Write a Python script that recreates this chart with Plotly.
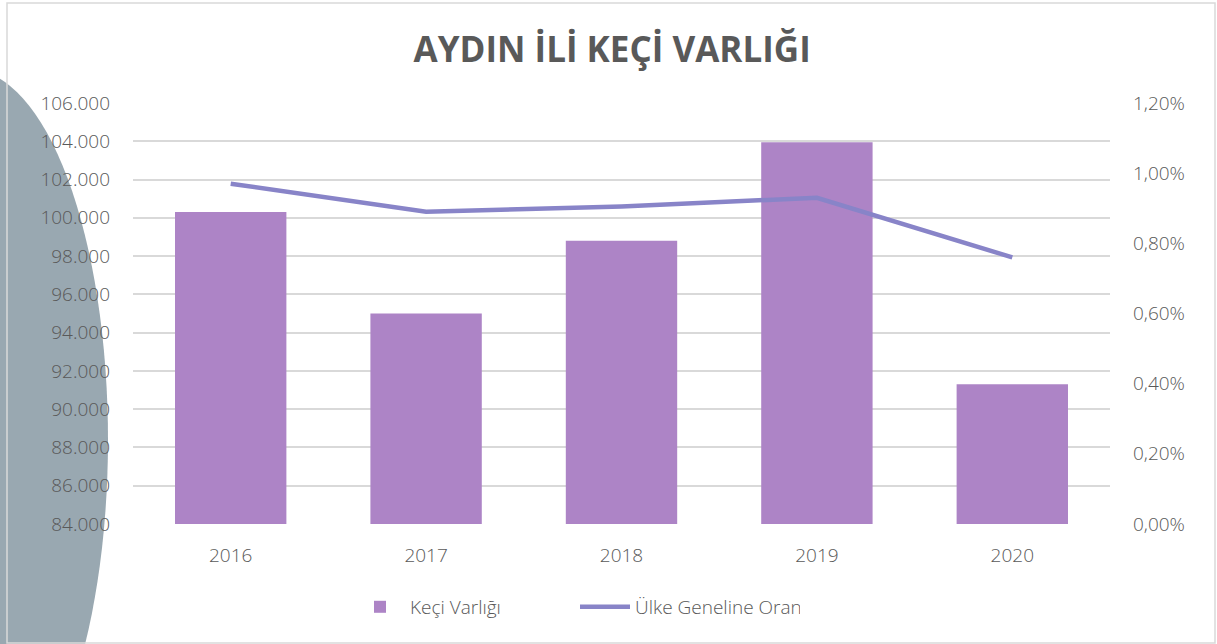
import plotly.graph_objects as go

years = ["2016", "2017", "2018", "2019", "2020"]
keci_varligi = [100300, 95000, 98800, 103950, 91300]
ulke_orani = [0.0097, 0.0089, 0.00905, 0.0093, 0.0076]

FONT = "Open Sans"
GREY = "#595959"
TICKFONT = dict(family=FONT, size=19, color=GREY, weight=300)

fig = go.Figure()
fig.add_trace(go.Bar(
    x=years, y=keci_varligi, name="Keçi Varlığı",
    marker=dict(color="#ad84c6", line=dict(width=0)),
    yaxis="y",
))
fig.add_trace(go.Scatter(
    x=years, y=ulke_orani, name="Ülke Geneline Oran",
    mode="lines", line=dict(color="#8884c8", width=4.5),
    yaxis="y2",
))

fig.update_layout(
    width=1217, height=644,
    margin=dict(l=133, r=107, t=103, b=120),
    paper_bgcolor="white", plot_bgcolor="rgba(0,0,0,0)",
    separators=",.",
    bargap=0.43,
    title=dict(text="<b>AYDIN İLİ KEÇİ VARLIĞI</b>", x=0.503, xanchor="center",
               y=0.922, yanchor="middle",
               font=dict(family=FONT, size=35, color=GREY)),
    font=dict(family=FONT, color=GREY, size=18),
    xaxis=dict(showgrid=False, showline=False, ticks="",
               tickfont=TICKFONT, ticklabelstandoff=18),
    yaxis=dict(range=[84000, 106000], dtick=2000, tickformat=",.0f",
               showgrid=True, gridcolor="#d9d9d9", gridwidth=1.5,
               zeroline=False, showline=False, ticks="",
               tickfont=TICKFONT, ticklabelstandoff=22),
    yaxis2=dict(range=[0, 0.012], dtick=0.002, tickformat=".2%",
                overlaying="y", side="right", showgrid=False,
                zeroline=False, showline=False, ticks="",
                tickfont=TICKFONT, ticklabelstandoff=22),
    legend=dict(orientation="h", x=(350 - 133) / 977, xanchor="left", y=-0.197,
                yanchor="middle", font=TICKFONT,
                itemwidth=50, entrywidth=160, traceorder="normal"),
    showlegend=True,
    shapes=[
        dict(type="circle", xref="paper", yref="paper", layer="below",
             x0=(-30 - 138 - 133) / 977, x1=(-30 + 138 - 133) / 977,
             y0=(524 - (440 + 370)) / 421, y1=(524 - (440 - 370)) / 421,
             fillcolor="#99a8b1", line=dict(width=0)),
        dict(type="rect", xref="paper", yref="paper", layer="above",
             x0=(7 - 133) / 977, x1=(1215 - 133) / 977,
             y0=(524 - 643) / 421, y1=(524 - 3) / 421,
             fillcolor="rgba(0,0,0,0)", line=dict(color="#d9d9d9", width=1.5)),
    ],
)

fig.write_html("out.html", config={"displayModeBar": False})
with open("out.html", encoding="utf-8") as f:
    html = f.read()
html = html.replace("<head>", "<head><style>html,body{margin:0;padding:0;overflow:hidden}</style>", 1)
with open("out.html", "w", encoding="utf-8") as f:
    f.write(html)
